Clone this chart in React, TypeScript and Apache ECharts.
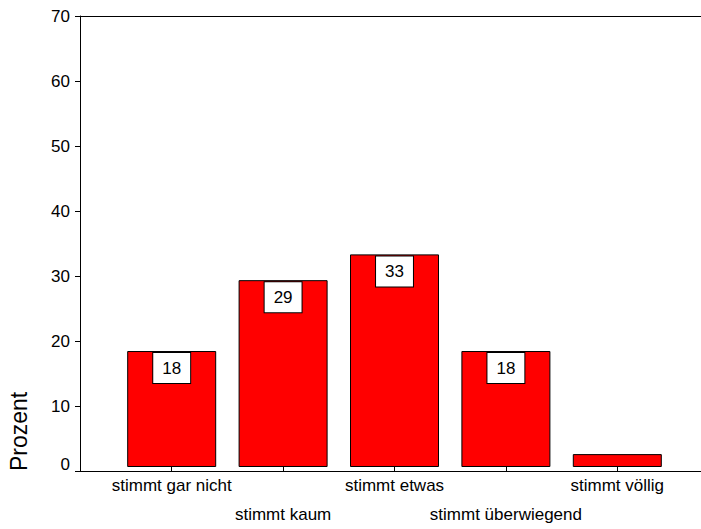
import React, { useEffect, useRef } from "react";
import * as echarts from "echarts";

const categories = [
  "stimmt gar nicht",
  "stimmt kaum",
  "stimmt etwas",
  "stimmt überwiegend",
  "stimmt völlig",
];
const percentValues = [18, 29, 33, 18, 2];
const showValueLabel = [true, true, true, true, false];
const yTicks = { min: 0, max: 70, interval: 10 };
const yAxisTitle = "Prozent";

const FONT = "'Liberation Sans', Arial, Helvetica, sans-serif";

export default function App() {
  const ref = useRef<HTMLDivElement>(null);

  useEffect(() => {
    document.body.style.margin = "0";
    const chart = echarts.init(ref.current!, null, { renderer: "svg" });

    const gridTop = 16;
    const gridBottom = 58;

    chart.setOption({
      animation: false,
      backgroundColor: "#ffffff",
      textStyle: { fontFamily: FONT },
      grid: [
        // frame grid: left/top/bottom axis lines and the value scale
        { left: 80, right: 0, top: gridTop, bottom: gridBottom },
        // bar grid: category bands
        { left: 116, right: 28, top: gridTop, bottom: gridBottom },
      ],
      xAxis: [
        {
          gridIndex: 0,
          type: "value",
          min: 0,
          max: 1,
          position: "bottom",
          axisLine: { show: true, lineStyle: { color: "#000", width: 1 } },
          axisTick: { show: false },
          axisLabel: { show: false },
          splitLine: { show: false },
        },
        {
          gridIndex: 0,
          type: "value",
          min: 0,
          max: 1,
          position: "top",
          axisLine: { show: true, lineStyle: { color: "#000", width: 1 } },
          axisTick: { show: false },
          axisLabel: { show: false },
          splitLine: { show: false },
        },
        {
          gridIndex: 1,
          type: "category",
          data: categories,
          boundaryGap: true,
          axisLine: { show: false },
          axisTick: {
            show: true,
            alignWithLabel: true,
            interval: 0,
            length: 4,
            lineStyle: { color: "#000", width: 1 },
          },
          axisLabel: {
            interval: 0,
            margin: 4,
            color: "#000",
            fontSize: 17,
            fontFamily: FONT,
            lineHeight: 29,
            formatter: (v: string, i: number) => (i % 2 === 1 ? "\n" + v : v),
          },
          splitLine: { show: false },
        },
      ],
      yAxis: [
        {
          gridIndex: 0,
          type: "value",
          min: yTicks.min,
          max: yTicks.max,
          interval: yTicks.interval,
          axisLine: { show: true, lineStyle: { color: "#000", width: 1 } },
          axisTick: {
            show: true,
            length: 5,
            lineStyle: { color: "#000", width: 1 },
          },
          axisLabel: {
            margin: 10,
            color: "#000",
            fontSize: 17,
            fontFamily: FONT,
            formatter: (v: number) => (v === 0 ? "{z|0}" : String(v)),
            rich: {
              z: {
                fontSize: 17,
                fontFamily: FONT,
                color: "#000",
                padding: [0, 0, 14, 0],
              },
            },
          },
          splitLine: { show: false },
        },
        {
          gridIndex: 1,
          type: "value",
          min: yTicks.min,
          max: yTicks.max,
          interval: yTicks.interval,
          show: false,
        },
      ],
      graphic: [
        {
          type: "text",
          x: 19,
          y: 471,
          rotation: Math.PI / 2,
          style: {
            text: yAxisTitle,
            fontSize: 23,
            fontFamily: FONT,
            fill: "#000",
            align: "left",
            verticalAlign: "middle",
          },
        },
      ],
      series: [
        {
          type: "bar",
          xAxisIndex: 2,
          yAxisIndex: 1,
          barWidth: 89,
          data: percentValues.map((v, i) => ({
            value: v,
            label: { show: showValueLabel[i] },
          })),
          itemStyle: {
            color: "#ff0000",
            borderColor: "#000",
            borderWidth: 1,
          },
          label: {
            show: true,
            position: "insideTop",
            distance: 2,
            color: "#000",
            fontSize: 17,
            fontFamily: FONT,
            lineHeight: 21,
            backgroundColor: "#fff",
            borderColor: "#000",
            borderWidth: 1,
            padding: [5, 9, 4, 9],
          },
        },
      ],
    });

    return () => chart.dispose();
  }, []);

  return <div ref={ref} style={{ width: 701, height: 529 }} />;
}
